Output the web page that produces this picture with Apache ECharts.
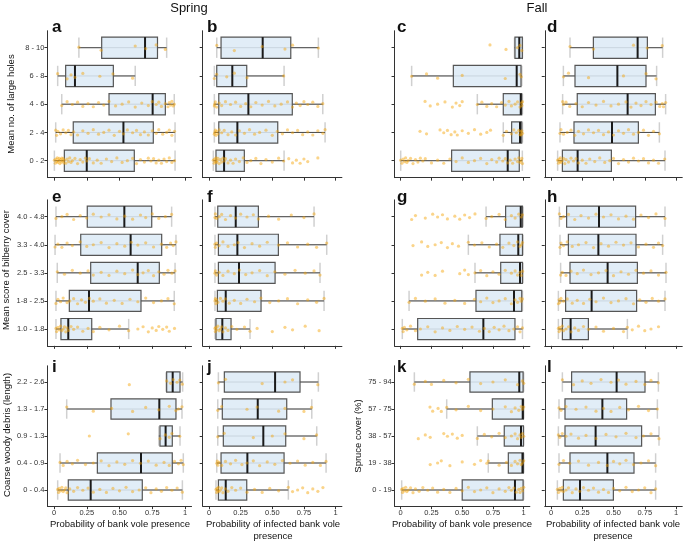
<!DOCTYPE html>
<html><head><meta charset="utf-8">
<script src="https://cdn.jsdelivr.net/npm/echarts@6/dist/echarts.min.js"></script>
<style>html,body{margin:0;padding:0;background:#fff}#c{width:685px;height:543px}</style>
</head><body><div id="c"></div>
<script>
// ---------- categories (bottom to top) ----------
const catsHoles = ['0 - 2','2 - 4','4 - 6','6 - 8','8 - 10'];
const catsBilberry = ['1.0 - 1.8','1-8 - 2.5','2.5 - 3.3','3.3 - 4.0','4.0 - 4.8'];
const catsCWD = ['0 - 0.4','0.4 - 0.9','0.9 - 1.3','1.3 - 1.7','2.2 - 2.6'];
const catsSpruce = ['0 - 19','19 - 38','38 - 57','57 - 75','75 - 94'];
const xTickValues = [0,0.25,0.5,0.75,1];

// ---------- box statistics [whisker min, Q1, median, Q3, whisker max] ----------
const boxA = [[0.003,0.079,0.25,0.613,0.924],[0.013,0.147,0.53,0.758,0.924],[0.059,0.42,0.753,0.85,0.918],[0.028,0.089,0.16,0.453,0.62],[0.19,0.364,0.695,0.79,0.86]];
const boxB = [[0.034,0.055,0.119,0.279,0.593],[0.042,0.077,0.224,0.543,0.917],[0.042,0.077,0.311,0.658,0.899],[0.042,0.061,0.184,0.298,0.593],[0.061,0.095,0.424,0.646,0.864]];
const boxC = [[0.0,0.414,0.87,0.964,0.989],[0.834,0.902,0.97,0.984,0.99],[0.623,0.834,0.976,0.984,0.99],[0.089,0.428,0.943,0.978,0.985],[0.925,0.929,0.964,0.989,0.99]];
const boxD = [[0.053,0.091,0.213,0.483,0.912],[0.072,0.184,0.488,0.699,0.867],[0.093,0.21,0.613,0.835,0.917],[0.099,0.192,0.531,0.76,0.845],[0.152,0.339,0.693,0.771,0.893]];
const boxE = [[0.015,0.053,0.109,0.288,0.57],[0.015,0.117,0.267,0.664,0.918],[0.025,0.28,0.639,0.804,0.924],[0.008,0.204,0.585,0.822,0.931],[0.015,0.254,0.537,0.746,0.898]];
const boxF = [[0.047,0.055,0.105,0.174,0.324],[0.047,0.066,0.132,0.411,0.909],[0.047,0.074,0.237,0.522,0.877],[0.047,0.074,0.224,0.548,0.93],[0.047,0.069,0.211,0.39,0.83]];
const boxG = [[0.013,0.138,0.672,0.929,0.99],[0.068,0.612,0.921,0.984,0.99],[0.604,0.813,0.97,0.99,0.995],[0.55,0.807,0.956,0.99,0.995],[0.694,0.853,0.976,0.99,0.995]];
const boxH = [[0.059,0.091,0.157,0.299,0.611],[0.059,0.117,0.325,0.685,0.912],[0.077,0.152,0.453,0.691,0.92],[0.072,0.139,0.379,0.68,0.893],[0.067,0.125,0.384,0.677,0.912]];
const boxI = [[0.028,0.109,0.28,0.674,0.98],[0.046,0.331,0.664,0.903,0.987],[0.8,0.809,0.852,0.903,0.962],[0.097,0.435,0.804,0.931,0.977],[0.855,0.86,0.906,0.962,0.982]];
const boxJ = [[0.055,0.074,0.132,0.298,0.627],[0.061,0.095,0.303,0.593,0.925],[0.069,0.113,0.429,0.606,0.851],[0.069,0.105,0.385,0.614,0.812],[0.074,0.121,0.522,0.719,0.864]];
const boxK = [[0.008,0.5,0.929,0.995,1.0],[0.712,0.875,0.99,0.998,1.0],[0.623,0.842,0.978,0.998,1.0],[0.374,0.745,0.992,0.998,1.0],[0.111,0.563,0.964,0.995,1.0]];
const boxL = [[0.051,0.099,0.232,0.499,0.837],[0.064,0.152,0.451,0.664,0.837],[0.059,0.112,0.357,0.725,0.864],[0.064,0.112,0.411,0.605,0.851],[0.091,0.165,0.525,0.752,0.859]];

// ---------- site-level points per category ----------
const ptsA = [
 [0.003,0.01,0.015,0.02,0.025,0.03,0.035,0.04,0.045,0.05,0.055,0.06,0.065,0.07,0.075,0.08,0.09,0.1,0.11,0.12,0.13,0.14,0.16,0.18,0.2,0.22,0.24,0.25,0.27,0.3,0.33,0.36,0.4,0.44,0.48,0.52,0.56,0.6,0.63,0.66,0.69,0.72,0.74,0.76,0.78,0.8,0.82,0.84,0.86,0.88,0.9,0.92],
 [0.013,0.02,0.03,0.05,0.07,0.09,0.11,0.13,0.15,0.18,0.22,0.26,0.3,0.34,0.38,0.42,0.46,0.5,0.53,0.56,0.6,0.63,0.66,0.69,0.72,0.75,0.78,0.8,0.83,0.86,0.88,0.9,0.92],
 [0.059,0.1,0.14,0.18,0.22,0.26,0.3,0.34,0.38,0.42,0.47,0.52,0.57,0.62,0.67,0.72,0.75,0.78,0.8,0.82,0.85,0.87,0.88,0.89,0.9,0.91,0.918],
 [0.028,0.1,0.13,0.16,0.22,0.35,0.45,0.6],
 [0.19,0.36,0.62,0.7,0.78,0.85]];
const ptsB = [
 [0.034,0.04,0.045,0.05,0.055,0.06,0.065,0.07,0.08,0.09,0.1,0.11,0.12,0.13,0.15,0.17,0.19,0.21,0.24,0.27,0.3,0.33,0.37,0.41,0.45,0.5,0.55,0.59,0.63,0.66,0.69,0.72,0.75,0.78,0.86],
 [0.042,0.045,0.05,0.055,0.06,0.07,0.08,0.1,0.12,0.15,0.18,0.21,0.24,0.28,0.32,0.36,0.4,0.45,0.5,0.54,0.58,0.62,0.66,0.7,0.74,0.78,0.82,0.86,0.9,0.917],
 [0.042,0.045,0.05,0.06,0.08,0.1,0.13,0.17,0.21,0.25,0.29,0.33,0.37,0.42,0.47,0.52,0.57,0.62,0.66,0.69,0.72,0.75,0.78,0.82,0.86,0.899],
 [0.042,0.06,0.14,0.2,0.3,0.59],
 [0.061,0.2,0.42,0.6,0.66,0.864]];
const ptsC = [
 [0.0,0.01,0.02,0.03,0.04,0.05,0.06,0.08,0.1,0.12,0.14,0.16,0.18,0.2,0.25,0.3,0.35,0.4,0.45,0.5,0.55,0.6,0.65,0.7,0.74,0.78,0.8,0.83,0.85,0.87,0.89,0.91,0.93,0.95,0.96,0.97,0.98,0.985,0.99],
 [0.157,0.21,0.32,0.35,0.38,0.41,0.44,0.46,0.5,0.55,0.6,0.65,0.7,0.73,0.834,0.86,0.9,0.92,0.94,0.96,0.97,0.975,0.98,0.985,0.99],
 [0.198,0.24,0.3,0.36,0.42,0.45,0.48,0.5,0.623,0.66,0.7,0.74,0.78,0.82,0.85,0.88,0.9,0.93,0.95,0.97,0.98,0.985,0.99],
 [0.089,0.21,0.3,0.5,0.85,0.97,0.98],
 [0.726,0.856,0.95,0.97,0.985]];
const ptsD = [
 [0.053,0.06,0.065,0.07,0.075,0.08,0.09,0.1,0.11,0.12,0.14,0.16,0.18,0.2,0.22,0.25,0.28,0.31,0.35,0.39,0.43,0.47,0.5,0.54,0.58,0.62,0.66,0.7,0.74,0.78,0.82,0.86,0.91],
 [0.072,0.08,0.1,0.13,0.16,0.19,0.22,0.26,0.3,0.34,0.38,0.42,0.46,0.5,0.54,0.58,0.62,0.66,0.7,0.74,0.78,0.82,0.867],
 [0.093,0.1,0.12,0.15,0.2,0.25,0.3,0.36,0.42,0.48,0.54,0.6,0.64,0.68,0.72,0.76,0.8,0.84,0.87,0.89,0.9,0.917],
 [0.1,0.14,0.3,0.58,0.76,0.84],
 [0.152,0.34,0.66,0.77,0.89]];
const ptsE = [
 [0.015,0.02,0.03,0.04,0.05,0.06,0.07,0.08,0.09,0.1,0.11,0.13,0.15,0.18,0.22,0.26,0.3,0.35,0.42,0.5,0.57,0.64,0.68,0.72,0.75,0.78,0.8,0.83,0.86,0.88,0.92],
 [0.015,0.03,0.05,0.07,0.1,0.12,0.15,0.18,0.21,0.24,0.27,0.3,0.35,0.4,0.46,0.52,0.58,0.64,0.7,0.76,0.82,0.87,0.918],
 [0.025,0.08,0.14,0.2,0.26,0.3,0.36,0.42,0.48,0.54,0.6,0.64,0.68,0.72,0.76,0.8,0.84,0.87,0.9,0.924],
 [0.008,0.03,0.06,0.1,0.14,0.2,0.25,0.3,0.36,0.42,0.48,0.54,0.59,0.64,0.7,0.76,0.82,0.86,0.89,0.91,0.931],
 [0.015,0.06,0.1,0.15,0.2,0.25,0.3,0.36,0.42,0.48,0.54,0.6,0.66,0.7,0.75,0.8,0.85,0.898]];
const ptsF = [
 [0.047,0.05,0.055,0.06,0.07,0.08,0.09,0.1,0.11,0.13,0.15,0.18,0.22,0.28,0.324,0.38,0.5,0.6,0.66,0.76,0.87],
 [0.047,0.05,0.055,0.06,0.07,0.09,0.11,0.13,0.16,0.2,0.25,0.3,0.36,0.41,0.48,0.55,0.62,0.7,0.78,0.85,0.909],
 [0.047,0.05,0.06,0.08,0.11,0.15,0.2,0.24,0.29,0.34,0.4,0.46,0.52,0.6,0.68,0.76,0.83,0.877],
 [0.047,0.05,0.06,0.08,0.11,0.15,0.2,0.23,0.28,0.34,0.4,0.46,0.55,0.62,0.7,0.78,0.85,0.93],
 [0.047,0.05,0.06,0.08,0.1,0.13,0.17,0.21,0.25,0.3,0.35,0.39,0.47,0.55,0.65,0.75,0.83]];
const ptsG = [
 [0.013,0.02,0.03,0.05,0.08,0.12,0.16,0.22,0.28,0.34,0.4,0.46,0.52,0.58,0.64,0.68,0.72,0.76,0.8,0.84,0.88,0.92,0.95,0.97,0.99],
 [0.068,0.12,0.2,0.28,0.36,0.44,0.52,0.6,0.65,0.7,0.75,0.8,0.85,0.9,0.93,0.95,0.97,0.98,0.99],
 [0.17,0.22,0.28,0.34,0.48,0.52,0.55,0.604,0.65,0.7,0.75,0.8,0.85,0.9,0.93,0.95,0.97,0.98,0.99],
 [0.1,0.17,0.22,0.28,0.33,0.38,0.42,0.47,0.55,0.6,0.66,0.72,0.78,0.83,0.88,0.92,0.95,0.97,0.98,0.99],
 [0.089,0.12,0.2,0.26,0.3,0.34,0.38,0.44,0.48,0.52,0.56,0.604,0.694,0.74,0.8,0.85,0.9,0.93,0.96,0.98,0.99]];
const ptsH = [
 [0.059,0.065,0.07,0.08,0.09,0.1,0.12,0.14,0.16,0.19,0.22,0.26,0.3,0.36,0.42,0.5,0.58,0.611,0.65,0.7,0.75,0.8,0.86],
 [0.059,0.065,0.07,0.08,0.1,0.13,0.17,0.21,0.26,0.31,0.36,0.42,0.48,0.54,0.6,0.66,0.71,0.76,0.81,0.86,0.912],
 [0.077,0.09,0.12,0.16,0.21,0.26,0.32,0.38,0.44,0.5,0.56,0.62,0.68,0.74,0.8,0.86,0.92],
 [0.072,0.08,0.1,0.13,0.17,0.22,0.28,0.34,0.4,0.46,0.52,0.58,0.64,0.7,0.76,0.82,0.86,0.893],
 [0.067,0.08,0.1,0.14,0.19,0.24,0.3,0.36,0.42,0.48,0.54,0.6,0.66,0.72,0.78,0.84,0.912]];
const ptsI = [
 [0.028,0.035,0.04,0.05,0.06,0.07,0.08,0.09,0.1,0.12,0.15,0.18,0.22,0.26,0.3,0.35,0.4,0.45,0.5,0.55,0.6,0.65,0.7,0.74,0.78,0.82,0.86,0.9,0.94,0.98],
 [0.046,0.07,0.1,0.14,0.18,0.24,0.3,0.36,0.42,0.48,0.54,0.6,0.66,0.72,0.78,0.84,0.88,0.92,0.95,0.97,0.987],
 [0.27,0.567,0.81,0.85,0.88,0.9,0.96],
 [0.097,0.3,0.44,0.6,0.7,0.8,0.88,0.93,0.95,0.977],
 [0.575,0.86,0.89,0.91,0.94,0.96,0.98]];
const ptsJ = [
 [0.055,0.06,0.065,0.07,0.075,0.08,0.09,0.1,0.11,0.13,0.15,0.18,0.21,0.25,0.3,0.36,0.42,0.48,0.55,0.627,0.66,0.7,0.74,0.78,0.82,0.86,0.9],
 [0.061,0.065,0.07,0.08,0.1,0.13,0.17,0.21,0.26,0.3,0.35,0.4,0.46,0.52,0.58,0.64,0.7,0.76,0.82,0.88,0.925],
 [0.069,0.12,0.35,0.5,0.6,0.75,0.85],
 [0.069,0.1,0.3,0.38,0.55,0.6,0.75,0.81],
 [0.074,0.13,0.42,0.6,0.66,0.86]];
const ptsK = [
 [0.008,0.015,0.02,0.03,0.04,0.05,0.06,0.08,0.1,0.12,0.15,0.18,0.22,0.26,0.3,0.35,0.4,0.45,0.5,0.55,0.6,0.65,0.7,0.75,0.8,0.85,0.88,0.9,0.92,0.94,0.96,0.97,0.98,0.99,1.0],
 [0.24,0.3,0.33,0.4,0.5,0.6,0.65,0.7,0.712,0.8,0.86,0.9,0.93,0.95,0.97,0.98,0.99,1.0],
 [0.143,0.2,0.24,0.35,0.38,0.42,0.46,0.5,0.623,0.68,0.74,0.8,0.85,0.9,0.93,0.95,0.97,0.98,0.99,1.0],
 [0.238,0.26,0.304,0.33,0.374,0.45,0.55,0.65,0.75,0.85,0.9,0.93,0.96,0.98,0.99,1.0],
 [0.111,0.2,0.25,0.35,0.45,0.55,0.65,0.75,0.85,0.95,0.99,1.0]];
const ptsL = [
 [0.051,0.06,0.07,0.08,0.09,0.1,0.12,0.14,0.17,0.2,0.23,0.26,0.3,0.34,0.38,0.42,0.46,0.5,0.55,0.6,0.65,0.7,0.75,0.8,0.837],
 [0.064,0.1,0.15,0.22,0.3,0.38,0.45,0.5,0.55,0.6,0.66,0.72,0.78,0.837],
 [0.059,0.07,0.09,0.12,0.16,0.22,0.28,0.36,0.44,0.52,0.6,0.68,0.74,0.8,0.864],
 [0.064,0.08,0.12,0.2,0.28,0.36,0.42,0.48,0.55,0.62,0.7,0.78,0.851],
 [0.091,0.18,0.25,0.32,0.4,0.48,0.54,0.6,0.68,0.75,0.8,0.859]];

// ---------- layout / style ----------
const FONT = '"Liberation Sans", Arial, Helvetica, sans-serif';
const colLeft = [47.45, 202.7, 394.55, 544.75];
const colWidth = [144.1, 139.2, 135.3, 137.5];
const rowTop = [30.75, 199.85, 365.8];
const rowHeight = [146.9, 146.0, 140.4];
const jitterCycle = [0.02,-0.09,0.06,-0.03,0.1,-0.06,0.0,0.08,-0.1,0.04,-0.05,0.09,-0.01,0.07,-0.08];

const panels = [
  {letter:'a',row:0,col:0,cats:catsHoles,box:boxA,pts:ptsA,labels:true},
  {letter:'b',row:0,col:1,cats:catsHoles,box:boxB,pts:ptsB},
  {letter:'c',row:0,col:2,cats:catsHoles,box:boxC,pts:ptsC},
  {letter:'d',row:0,col:3,cats:catsHoles,box:boxD,pts:ptsD},
  {letter:'e',row:1,col:0,cats:catsBilberry,box:boxE,pts:ptsE,labels:true},
  {letter:'f',row:1,col:1,cats:catsBilberry,box:boxF,pts:ptsF},
  {letter:'g',row:1,col:2,cats:catsBilberry,box:boxG,pts:ptsG},
  {letter:'h',row:1,col:3,cats:catsBilberry,box:boxH,pts:ptsH},
  {letter:'i',row:2,col:0,cats:catsCWD,box:boxI,pts:ptsI,labels:true},
  {letter:'j',row:2,col:1,cats:catsCWD,box:boxJ,pts:ptsJ},
  {letter:'k',row:2,col:2,cats:catsSpruce,box:boxK,pts:ptsK,labels:true},
  {letter:'l',row:2,col:3,cats:catsSpruce,box:boxL,pts:ptsL}
];

function renderBox(params, api){
  const k = api.value(0);
  const c = v => api.coord([v, k]);
  const pMn = c(api.value(1)), pQ1 = c(api.value(2)), pMd = c(api.value(3)), pQ3 = c(api.value(4)), pMx = c(api.value(5));
  const y = pMn[1];
  const bh = api.size([0, 0.75])[1];
  const ch = api.size([0, 0.72])[1];
  return {type:'group', children:[
    {type:'line', shape:{x1:pMn[0],y1:y,x2:pMx[0],y2:y}, style:{stroke:'#c8c8c8',lineWidth:1}},
    {type:'line', shape:{x1:pMn[0],y1:y-ch/2,x2:pMn[0],y2:y+ch/2}, style:{stroke:'#d0d0d0',lineWidth:1.5}},
    {type:'line', shape:{x1:pMx[0],y1:y-ch/2,x2:pMx[0],y2:y+ch/2}, style:{stroke:'#d0d0d0',lineWidth:1.5}},
    {type:'line', shape:{x1:pMn[0],y1:y,x2:pQ1[0],y2:y}, style:{stroke:'#4a4a4a',lineWidth:1}},
    {type:'line', shape:{x1:pQ3[0],y1:y,x2:pMx[0],y2:y}, style:{stroke:'#4a4a4a',lineWidth:1}},
    {type:'rect', shape:{x:pQ1[0],y:y-bh/2,width:pQ3[0]-pQ1[0],height:bh}, style:{fill:'rgba(200,222,240,0.55)',stroke:'#555',lineWidth:1.2}},
    {type:'line', shape:{x1:pMd[0],y1:y-bh/2,x2:pMd[0],y2:y+bh/2}, style:{stroke:'#1a1a1a',lineWidth:2}}
  ]};
}

const grid=[], xAxis=[], yAxis=[], series=[];
panels.forEach((p,i)=>{
  grid.push({left:colLeft[p.col], top:rowTop[p.row], width:colWidth[p.col], height:rowHeight[p.row]});
  xAxis.push({gridIndex:i, type:'value', min:-0.05, max:1.05,
    axisLine:{show:true,onZero:false,lineStyle:{color:'#333',width:1}},
    axisTick:{show:true,length:3,customValues:xTickValues,lineStyle:{color:'#333'}},
    axisLabel:{show:p.row===2,customValues:xTickValues,margin:3,fontSize:7.5,color:'#333',fontFamily:FONT,
      formatter:v=> (v===0?'0':(v===1?'1':v.toFixed(2)))},
    splitLine:{show:false}});
  const cats = p.cats;
  yAxis.push({gridIndex:i, type:'value', min:-0.6, max:4.6,
    axisLine:{show:true,onZero:false,lineStyle:{color:'#333',width:1}},
    axisTick:{show:true,length:3,customValues:[0,1,2,3,4],lineStyle:{color:'#333'}},
    axisLabel:{show:!!p.labels,customValues:[0,1,2,3,4],margin:3,fontSize:7.5,color:'#333',fontFamily:FONT,
      formatter:v=>cats[Math.round(v)]},
    splitLine:{show:false}});
  series.push({type:'custom', xAxisIndex:i, yAxisIndex:i, silent:true, z:2, renderItem:renderBox,
    data:p.box.map((b,k)=>[k].concat(b)), encode:{x:[1,2,3,4,5], y:0}});
  const pd=[]; let n=0;
  p.pts.forEach((arr,k)=>arr.forEach(v=>{ pd.push([v, k + jitterCycle[n % jitterCycle.length]]); n++; }));
  series.push({type:'scatter', xAxisIndex:i, yAxisIndex:i, silent:true, z:3, symbolSize:3.2,
    itemStyle:{color:'rgba(245,165,10,0.6)'}, data:pd});
});

const graphic=[];
const txt=(text,x,y,font,opts={})=>graphic.push(Object.assign({type:'text',x:x,y:y,silent:true,
  style:{text:text,font:font,fill:'#111',align:opts.align||'center',verticalAlign:opts.va||'middle'}},opts.rot?{rotation:opts.rot}:{}));
txt('Spring',189,8,'13px '+FONT);
txt('Fall',537,8,'13px '+FONT);
const letterX=[52,207,397,547], letterY=[36,206,376];
panels.forEach(p=>txt(p.letter,letterX[p.col],letterY[p.row],'bold 17px '+FONT,{align:'left',va:'bottom'}));
const R=Math.PI/2;
txt('Mean no. of large holes',11,104,'9.5px '+FONT,{rot:R});
txt('Mean score of bilberry cover',6,270,'9.5px '+FONT,{rot:R});
txt('Coarse woody debris (length)',7.5,435,'9.5px '+FONT,{rot:R});
txt('Spruce cover (%)',358,436,'9.5px '+FONT,{rot:R});
txt('Probability of bank vole presence',120,524,'9.5px '+FONT);
txt('Probability of infected bank vole',273,524,'9.5px '+FONT);
txt('presence',273,536,'9.5px '+FONT);
txt('Probability of bank vole presence',462,524,'9.5px '+FONT);
txt('Probability of infected bank vole',613,524,'9.5px '+FONT);
txt('presence',613,536,'9.5px '+FONT);

const chart = echarts.init(document.getElementById('c'), null, {renderer:'canvas'});
chart.setOption({animation:false, backgroundColor:'#fff', grid, xAxis, yAxis, series, graphic});
</script></body></html>
